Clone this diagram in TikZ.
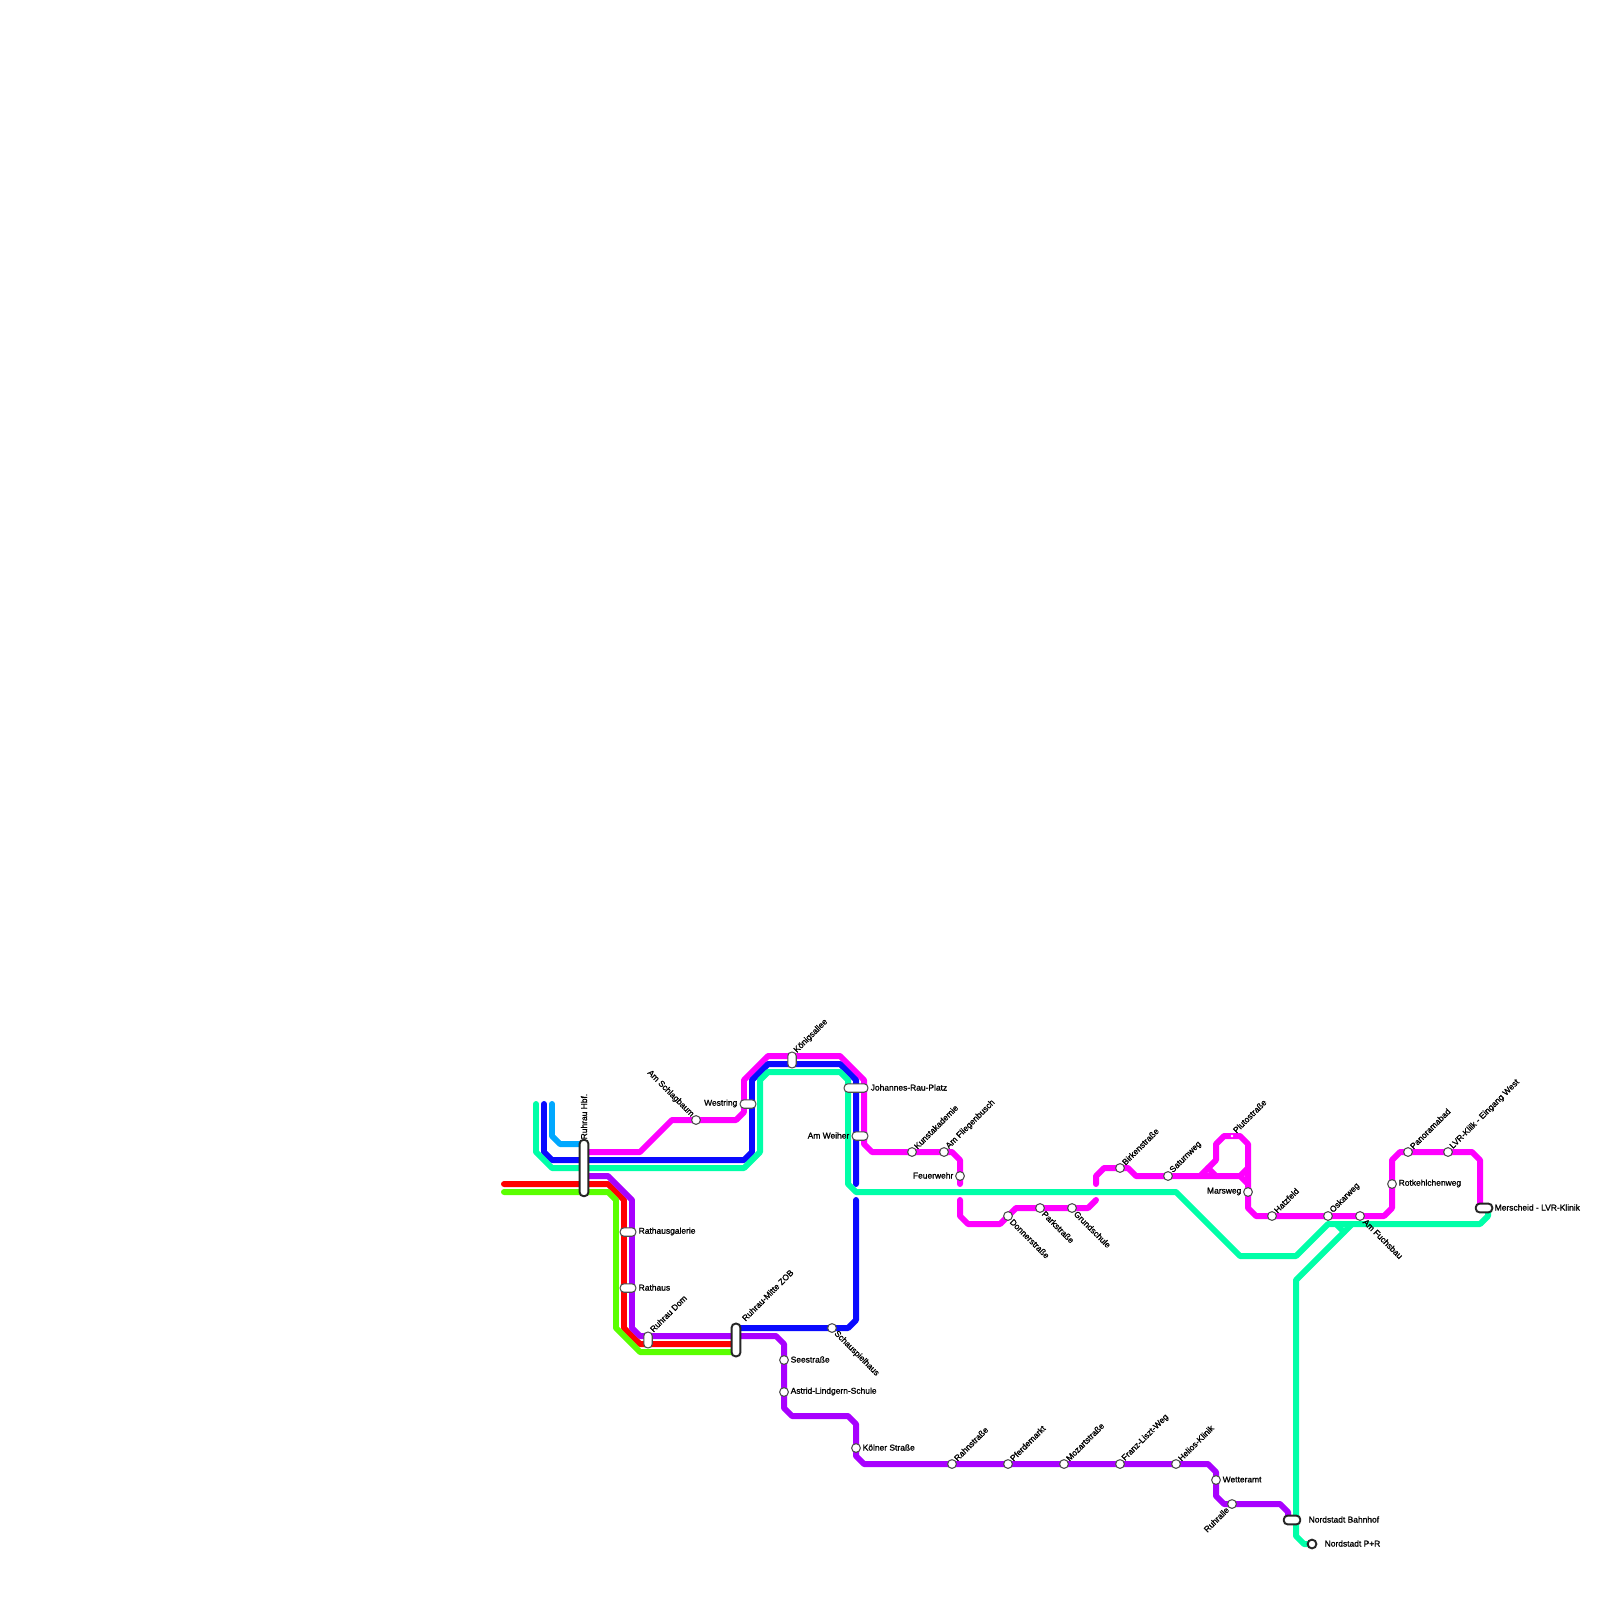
\documentclass[tikz,border=0pt]{standalone}
\usepackage{fontspec}
\setmainfont{Liberation Sans}
\usetikzlibrary{backgrounds}
\definecolor{cmag}{HTML}{FF00FF}
\definecolor{cblue}{HTML}{0A0AFF}
\definecolor{cteal}{HTML}{00FFA8}
\definecolor{cred}{HTML}{FF0000}
\definecolor{cpur}{HTML}{A800FF}
\definecolor{cgrn}{HTML}{5AFF00}
\definecolor{clbl}{HTML}{00A8FF}
\tikzset{
 metro/.style={line width=1.7pt,line cap=round,line join=round},
 stn/.style={draw=black!70,line width=0.3pt,fill=white,circle,inner sep=0pt,minimum size=2.5pt},
 bigstn/.style={stn,draw=black!85,line width=0.55pt,minimum size=2.5pt},
 pill/.style n args={2}{draw=black!70,line width=0.3pt,fill=white,rectangle,inner sep=0pt,minimum width=#1,minimum height=#2,rounded corners=1.1pt},
 bigpill/.style n args={2}{draw=black!85,line width=0.55pt,fill=white,rectangle,inner sep=0pt,minimum width=#1,minimum height=#2,rounded corners=1.1pt},
 lab/.style={inner sep=0pt,font=\fontsize{2.4}{3}\selectfont\addfontfeature{FakeBold=1.2},text=black},
 labr/.style={lab,anchor=west},
 labl/.style={lab,anchor=east},
 labur/.style={lab,anchor=west,rotate=45},
 labdr/.style={lab,anchor=west,rotate=-45},
 labul/.style={lab,anchor=east,rotate=-45},
 labdl/.style={lab,anchor=east,rotate=45},
}
\begin{document}
\begin{tikzpicture}[x=0.01cm,y=-0.01cm]
\useasboundingbox (0,0) rectangle (1600,1600);
% stations
\node[bigpill={2.5pt}{16pt}] (hbf) at (584,1168) {};
\node[pill={4.5pt}{2.4pt}] (rgal) at (628,1232) {};
\node[pill={4.5pt}{2.4pt}] (rhaus) at (628,1288) {};
\node[pill={2.4pt}{4.5pt}] (dom) at (648,1340) {};
\node[bigpill={2.5pt}{9.3pt}] (zob) at (736,1340) {};
\node[pill={2.4pt}{4.5pt}] (koe) at (792,1060) {};
\node[pill={4.5pt}{2.4pt}] (west) at (748,1104) {};
\node[pill={6.8pt}{2.4pt}] (jrp) at (856,1088) {};
\node[pill={4.5pt}{2.4pt}] (weih) at (860,1136) {};
\node[bigpill={4.7pt}{2.5pt}] (mer) at (1484,1208) {};
\node[bigpill={4.7pt}{2.5pt}] (nbf) at (1292,1520) {};
\node[bigstn] (npr) at (1312,1544) {};
\node[stn] (schl) at (696,1120) {};
\node[stn] (kunst) at (912,1152) {};
\node[stn] (flieg) at (944,1152) {};
\node[stn] (feuer) at (960,1176) {};
\node[stn] (donn) at (1008,1216) {};
\node[stn] (park) at (1040,1208) {};
\node[stn] (grund) at (1072,1208) {};
\node[stn] (birk) at (1120,1168) {};
\node[stn] (sat) at (1168,1176) {};
\node[fill=white,circle,inner sep=0pt,minimum size=0.8pt] (pluto) at (1232,1136) {};
\node[stn] (mars) at (1248,1192) {};
\node[stn] (hatz) at (1272,1216) {};
\node[stn] (osk) at (1328,1216) {};
\node[stn] (fuchs) at (1360,1216) {};
\node[stn] (rot) at (1392,1184) {};
\node[stn] (pano) at (1408,1152) {};
\node[stn] (lvr) at (1448,1152) {};
\node[stn] (see) at (784,1360) {};
\node[stn] (astr) at (784,1392) {};
\node[stn] (koel) at (856,1448) {};
\node[stn] (schau) at (832,1328) {};
\node[stn] (rahm) at (952,1464) {};
\node[stn] (pferd) at (1008,1464) {};
\node[stn] (moz) at (1064,1464) {};
\node[stn] (franz) at (1120,1464) {};
\node[stn] (hel) at (1176,1464) {};
\node[stn] (wett) at (1216,1480) {};
\node[stn] (ruhr) at (1232,1504) {};
% lines
\begin{scope}[on background layer]
\draw[metro,clbl] (552,1104) -- (552,1136) -- (560,1144) -- (hbf.center |- 0,1144);
\draw[metro,cred] (504,1184) -- (608,1184) -- (624,1200) -- (624,1328) -- (640,1344) -- (zob.center |- 0,1344);
\draw[metro,cgrn] (504,1192) -- (608,1192) -- (616,1200) -- (616,1328) -- (640,1352) -- (zob.center |- 0,1352);
\draw[metro,cpur] (hbf.center |- 0,1176) -- (608,1176) -- (632,1200) -- (632,1328) -- (640,1336) -- (776,1336) -- (784,1344) -- (784,1408) -- (792,1416) -- (848,1416) -- (856,1424) -- (856,1456) -- (864,1464) -- (1208,1464) -- (1216,1472) -- (1216,1496) -- (1224,1504) -- (1280,1504) -- (1288,1512) -- (nbf.center -| 1288,0);
\draw[metro,cmag] (hbf.center |- 0,1152) -- (640,1152) -- (672,1120) -- (736,1120) -- (744,1112) -- (744,1080) -- (768,1056) -- (840,1056) -- (864,1080) -- (864,1144) -- (872,1152) -- (952,1152) -- (960,1160) -- (960,1184);
\draw[metro,cmag] (960,1200) -- (960,1216) -- (968,1224) -- (1000,1224) -- (1016,1208) -- (1088,1208) -- (1096,1200);
\draw[metro,cmag] (1096,1184) -- (1096,1176) -- (1104,1168) -- (1128,1168) -- (1136,1176) -- (1240,1176) -- (1248,1184);
\draw[metro,cmag] (1200,1176) -- (1216,1160) -- (1216,1144) -- (1224,1136) -- (1240,1136) -- (1248,1144) -- (1248,1208) -- (1256,1216) -- (1384,1216) -- (1392,1208) -- (1392,1160) -- (1400,1152) -- (1472,1152) -- (1480,1160) -- (mer.center -| 1480,0);
\draw[metro,cmag] (1240,1176) -- (1248,1168);
\draw[metro,cmag] (1208,1168) -- (1216,1176);
\draw[metro,cblue] (544,1104) -- (544,1152) -- (552,1160) -- (744,1160) -- (752,1152) -- (752,1080) -- (768,1064) -- (840,1064) -- (856,1080) -- (856,1184);
\draw[metro,cblue] (856,1200) -- (856,1320) -- (848,1328) -- (zob.center |- 0,1328);
\draw[metro,cteal] (536,1104) -- (536,1152) -- (552,1168) -- (744,1168) -- (760,1152) -- (760,1080) -- (768,1072) -- (840,1072) -- (848,1080) -- (848,1184) -- (856,1192) -- (1176,1192) -- (1240,1256) -- (1296,1256) -- (1328,1224) -- (1480,1224) -- (1488,1216) -- (mer.center -| 1488,0);
\draw[metro,cteal] (npr.center) -- (1304,1544) -- (1296,1536) -- (1296,1280) -- (1352,1224);
\draw[metro,cteal] (1336,1224) -- (1344,1232);
\end{scope}
% labels
\node[lab,anchor=west,rotate=90] (lhbf) at (584,1140) {Ruhrau Hbf.};
\node[labr] (lrgal) at (638,1231.5) {Rathausgalerie};
\node[labr] (lrhaus) at (638,1287.5) {Rathaus};
\node[labur] (ldom) at (651,1331) {Ruhrau Dom};
\node[labur] (lzob) at (743,1320) {Ruhrau-Mitte ZOB};
\node[labur] (lkoe) at (795,1052) {Königsallee};
\node[labl] (lwest) at (738,1103.5) {Westring};
\node[labr] (ljrp) at (870,1087.5) {Johannes-Rau-Platz};
\node[labl] (lweih) at (850,1135.5) {Am Weiher};
\node[labr] (lmer) at (1494,1207.5) {Merscheid - LVR-Klinik};
\node[labr] (lnbf) at (1308,1519.5) {Nordstadt Bahnhof};
\node[labr] (lnpr) at (1324,1543.5) {Nordstadt P+R};
\node[labul] (lschl) at (693,1116) {Am Schlagbaum};
\node[labur] (lkunst) at (915,1148) {Kunstakademie};
\node[labur] (lflieg) at (947,1148) {Am Fliegenbusch};
\node[labl] (lfeuer) at (954,1175.5) {Feuerwehr};
\node[labdr] (ldonn) at (1011,1220) {Donnerstraße};
\node[labdr] (lpark) at (1043,1212) {Parkstraße};
\node[labdr] (lgrund) at (1075,1212) {Grundschule};
\node[labur] (lbirk) at (1123,1164) {Birkenstraße};
\node[labur] (lsat) at (1171,1172) {Saturnweg};
\node[labur] (lpluto) at (1234,1132) {Plutostraße};
\node[labl] (lmars) at (1242,1191.5) {Marsweg};
\node[labur] (lhatz) at (1275,1212) {Hatzfeld};
\node[labur] (losk) at (1331,1212) {Oskarweg};
\node[labdr] (lfuchs) at (1364,1220) {Am Fuchsbau};
\node[labr] (lrot) at (1398,1183.5) {Rotkehlchenweg};
\node[labur] (lpano) at (1411,1148) {Panoramabad};
\node[labur] (llvr) at (1451,1148) {LVR-Klilk - Eingang West};
\node[labr] (lsee) at (790,1359.5) {Seestraße};
\node[labr] (lastr) at (790,1391.5) {Astrid-Lindgern-Schule};
\node[labr] (lkoel) at (862,1447.5) {Kölner Straße};
\node[labdr] (lschau) at (835,1332) {Schauspielhaus};
\node[labur] (lrahm) at (955,1460) {Rahnstraße};
\node[labur] (lpferd) at (1011,1460) {Pferdemarkt};
\node[labur] (lmoz) at (1067,1460) {Mozartstraße};
\node[labur] (lfranz) at (1123,1460) {Franz-Liszt-Weg};
\node[labur] (lhel) at (1179,1460) {Helios-Klinik};
\node[labr] (lwett) at (1222,1479.5) {Wetteramt};
\node[labdl] (lruhr) at (1228,1508) {Ruhralle};
\end{tikzpicture}
\end{document}
